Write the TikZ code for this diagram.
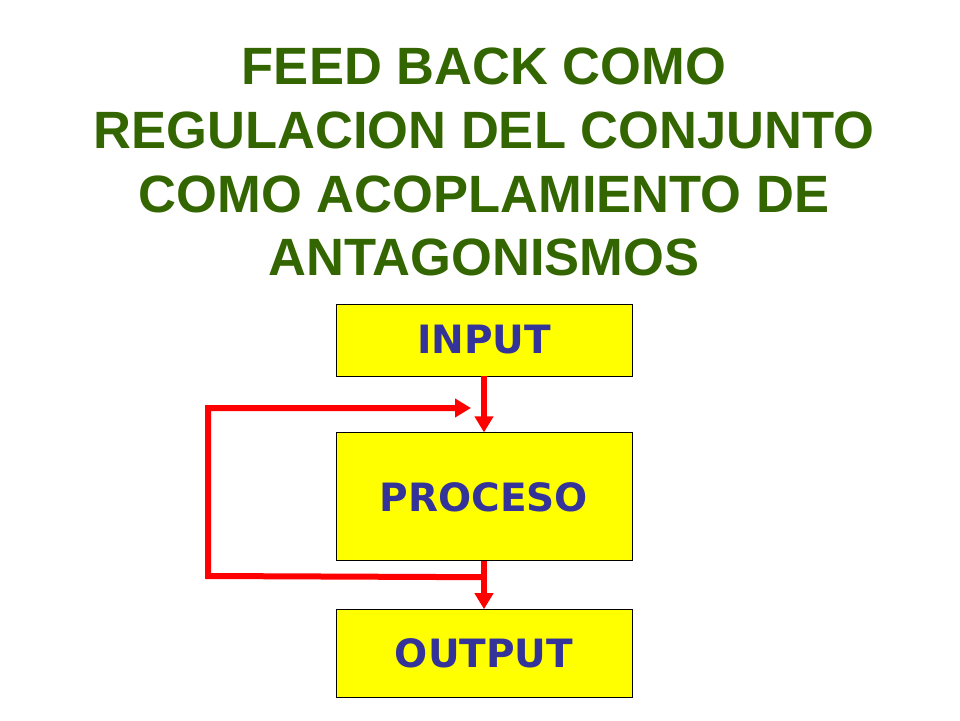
\documentclass[tikz,border=0pt]{standalone}
\usepackage{fontspec}
\setmainfont{Liberation Sans}
\newfontfamily\boxfont{DejaVu Sans}
\usepackage{tikz}
\usetikzlibrary{positioning}
\usetikzlibrary{arrows.meta}
\definecolor{titlegreen}{HTML}{336600}
\definecolor{boxblue}{HTML}{333399}
\definecolor{boxyellow}{HTML}{FFFF00}
\definecolor{arrowred}{HTML}{FF0000}

\begin{document}
\begin{tikzpicture}[x=1pt,y=-1pt,
    titleline/.style={text=titlegreen, font=\fontsize{52.5}{52.5}\selectfont\bfseries, inner sep=0pt, anchor=base},
    block/.style={draw=black, line width=0.8pt, fill=boxyellow, minimum width=296pt, inner sep=0pt,
      text=boxblue, font=\boxfont\fontsize{39}{39}\selectfont\bfseries},
    flow/.style={draw=arrowred, line width=6pt, -{Triangle[width=18pt,length=16pt]}}]
  \useasboundingbox (0,0) rectangle (960,720);
  % title
  \node[titleline] (t1) at (484,84) {FEED BACK COMO};
  \node[titleline] (t2) at (484,148) {REGULACION DEL CONJUNTO};
  \node[titleline] (t3) at (484,212) {COMO ACOPLAMIENTO DE};
  \node[titleline] (t4) at (484,275) {ANTAGONISMOS};
  % blocks
  \node[block, minimum height=72pt] (input) at (484,340) {INPUT};
  \node[block, minimum height=128pt, below=56pt of input] (proceso) {PROCESO};
  \node[block, minimum height=88pt, below=48pt of proceso] (output) {OUTPUT};
  % feedback loop
  \coordinate[below=16pt of proceso.south] (fb);
  \coordinate (fbleft) at (208,576);
  \coordinate (fbtop) at (208,408);
  \coordinate (fbin) at (471,408);
  \draw[flow] (input) -- (proceso);
  \draw[flow] (proceso) -- (output);
  \draw[flow] (fb) -- (fbleft) -- (fbtop) -- (fbin);
\end{tikzpicture}
\end{document}
